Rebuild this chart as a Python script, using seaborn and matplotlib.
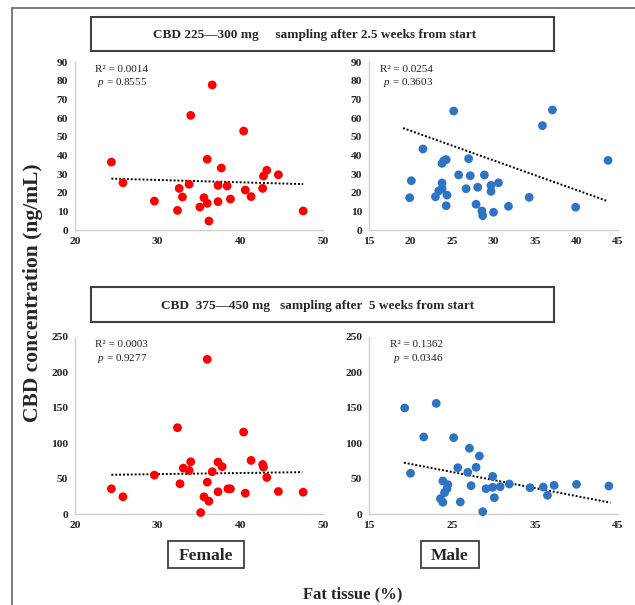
import matplotlib
matplotlib.use("Agg")
import matplotlib.pyplot as plt
import seaborn as sns
import pandas as pd
from matplotlib.patches import Rectangle
from matplotlib.lines import Line2D

# ---- data ----
female_fat = [24.4, 25.8, 29.6, 32.4, 32.6, 33.0, 33.8, 34.0, 35.1, 35.6, 36.0, 36.0, 36.2, 36.6,
              37.3, 37.3, 37.7, 38.4, 38.8, 40.4, 40.6, 41.3, 42.7, 42.8, 43.2, 44.6, 47.6]
female_cbd_w25 = [36.4, 25.3, 15.5, 10.5, 22.3, 17.7, 24.5, 61.4, 12.3, 17.3, 37.9, 14.3, 4.8, 77.7,
                  23.9, 15.2, 33.2, 23.6, 16.6, 53.0, 21.4, 17.9, 22.3, 28.9, 32.0, 29.6, 10.2]
female_fat_w5 = [24.4, 25.8, 29.6, 32.4, 32.7, 33.1, 33.8, 34.0, 35.2, 35.6, 36.0, 36.0, 36.2, 36.6,
                 37.3, 37.3, 37.8, 38.5, 38.8, 40.4, 40.6, 41.3, 42.7, 42.8, 43.2, 44.6, 47.6]
female_cbd_w5 = [35.6, 24.3, 54.9, 121.9, 42.7, 64.8, 61.5, 73.8, 2.0, 24.3, 45.0, 218.5, 18.1, 59.7,
                 73.3, 31.4, 66.8, 35.6, 35.6, 115.7, 29.4, 75.7, 70.0, 66.2, 51.6, 31.8, 30.8]

male_fat_w25 = [19.9, 20.1, 21.5, 23.0, 23.4, 23.8, 23.8, 23.8, 24.0, 24.3, 24.4, 24.3, 25.2, 25.8,
                26.7, 27.0, 27.2, 27.9, 28.1, 28.6, 28.7, 28.9, 29.7, 29.7, 30.0, 30.6, 31.8, 34.3,
                35.9, 37.1, 39.9, 43.8]
male_cbd_w25 = [17.3, 26.4, 43.4, 17.8, 20.9, 22.1, 25.2, 35.7, 37.1, 37.7, 18.7, 13.0, 63.7, 29.5,
                22.1, 38.2, 29.1, 13.8, 22.9, 10.2, 7.7, 29.5, 23.9, 20.7, 9.5, 25.3, 12.7, 17.5,
                55.9, 64.3, 12.2, 37.3]
male_fat_w5 = [19.3, 20.0, 21.6, 23.1, 23.6, 23.9, 23.9, 24.1, 24.4, 24.5, 25.2, 25.7, 26.0, 26.9,
               27.1, 27.3, 27.9, 28.3, 28.7, 29.1, 29.9, 29.9, 30.1, 30.8, 31.9, 34.4, 36.0, 36.5,
               37.3, 40.0, 43.9]
male_cbd_w5 = [149.7, 57.5, 108.8, 156.3, 21.6, 46.6, 16.5, 30.1, 35.7, 41.4, 107.8, 65.4, 17.0, 58.9,
               92.8, 40.0, 66.0, 81.9, 3.3, 35.7, 53.2, 37.7, 23.0, 38.6, 42.4, 37.1, 38.1, 26.4,
               40.5, 41.9, 39.5]

# trend lines (end points as drawn in the picture)
trend_x = {"fw25": [24.4, 47.6], "mw25": [19.1, 43.6], "fw5": [24.4, 47.5], "mw5": [19.2, 44.1]}
trend_y = {"fw25": [27.5, 24.6], "mw25": [54.6, 15.7], "fw5": [55.4, 59.1], "mw5": [72.5, 16.0]}

stats = {"fw25": ("0.0014", "0.8555"), "mw25": ("0.0254", "0.3603"),
         "fw5": ("0.0003", "0.9277"), "mw5": ("0.1362", "0.0346")}

titles = ["CBD 225\u2014300 mg     sampling after 2.5 weeks from start",
          "CBD  375\u2014450 mg   sampling after  5 weeks from start"]

RED = "#FF0000"
BLUE = "#2E74C4"
SERIF = ["Liberation Serif", "DejaVu Serif"]

sns.set_theme(style="white")
plt.rcParams["font.family"] = SERIF
plt.rcParams["mathtext.fontset"] = "custom"
plt.rcParams["mathtext.it"] = "Liberation Serif:italic"
plt.rcParams["mathtext.rm"] = "Liberation Serif"

W, H = 635, 605
fig = plt.figure(figsize=(W / 100, H / 100), dpi=100)


def px_box(x0, y0, x1, y1):
    return [x0 / W, 1 - y1 / H, (x1 - x0) / W, (y1 - y0) / H]


panels = [
    ("fw25", female_fat, female_cbd_w25, RED, px_box(75, 62, 323, 230), (20, 50), [20, 30, 40, 50], (0, 90), range(0, 91, 10), 0.08),
    ("mw25", male_fat_w25, male_cbd_w25, BLUE, px_box(369, 62, 618, 230), (15, 45), range(15, 46, 5), (0, 90), range(0, 91, 10), 0.045),
    ("fw5", female_fat_w5, female_cbd_w5, RED, px_box(75, 337, 323, 514), (20, 50), [20, 30, 40, 50], (0, 250), range(0, 251, 50), 0.08),
    ("mw5", male_fat_w5, male_cbd_w5, BLUE, px_box(369, 337, 618, 514), (15, 45), [15, 25, 35, 45], (0, 250), range(0, 251, 50), 0.085),
]

for key, xs, ys, col, box, xlim, xt, ylim, yt, tx in panels:
    ax = fig.add_axes(box)
    df = pd.DataFrame({"fat": xs, "cbd": ys})
    sns.scatterplot(data=df, x="fat", y="cbd", color=col, s=40, edgecolor="none", ax=ax, clip_on=False, zorder=3)
    tdf = pd.DataFrame({"fat": trend_x[key], "cbd": trend_y[key]})
    sns.lineplot(data=tdf, x="fat", y="cbd", color="black", linestyle=(0, (1, 1)), linewidth=1.4, ax=ax, zorder=2)
    ax.set_xlim(*xlim)
    ax.set_ylim(*ylim)
    ax.set_xticks(list(xt))
    ax.set_yticks(list(yt))
    ax.set_xlabel("")
    ax.set_ylabel("")
    for s in ["top", "right"]:
        ax.spines[s].set_visible(False)
    for s in ["left", "bottom"]:
        ax.spines[s].set_color("#D0D0D0")
        ax.spines[s].set_linewidth(1.0)
    ax.tick_params(length=0, labelsize=8.2, pad=5)
    for lab in ax.get_xticklabels() + ax.get_yticklabels():
        lab.set_fontweight("bold")
        lab.set_color("#222222")
    r2, p = stats[key]
    ax.text(tx, 0.955, f"R\u00b2 = {r2}", transform=ax.transAxes, fontsize=8, va="center", ha="left", color="#222222")
    ax.text(tx + 0.01, 0.88, f"$\\it{{p}}$ = {p}", transform=ax.transAxes, fontsize=8, va="center", ha="left", color="#222222")

# title boxes
for (x0, y0, x1, y1), t, cx in [((91, 17, 554, 51), titles[0], 315), ((91, 287, 554, 322), titles[1], 318)]:
    b = px_box(x0, y0, x1, y1)
    fig.add_artist(Rectangle((b[0], b[1]), b[2], b[3], transform=fig.transFigure,
                             facecolor="white", edgecolor="#404040", linewidth=1.5))
    fig.text(cx / W, 1 - ((y0 + y1) / 2 + 1) / H, t, ha="center", va="center", fontsize=9.5, fontweight="bold")

# sex boxes
for (x0, y0, x1, y1), t in [((168, 541, 244, 568), "Female"), ((421, 541, 479, 568), "Male")]:
    b = px_box(x0, y0, x1, y1)
    fig.add_artist(Rectangle((b[0], b[1]), b[2], b[3], transform=fig.transFigure,
                             facecolor="white", edgecolor="#404040", linewidth=1.3))
    fig.text((x0 + x1) / 2 / W, 1 - ((y0 + y1) / 2 + 2) / H, t, ha="center", va="center", fontsize=12.5, fontweight="bold")

fig.text(353 / W, 1 - 594 / H, "Fat tissue (%)", ha="center", va="center", fontsize=12, fontweight="bold")
fig.text(33 / W, 1 - 293 / H, "CBD concentration (ng/mL)", ha="center", va="center", rotation=90,
         fontsize=15.5, fontweight="bold")

# outer frame (top and left edges)
fig.add_artist(Line2D([12 / W, 1], [1 - 8 / H, 1 - 8 / H], transform=fig.transFigure, color="#666666", linewidth=1.2))
fig.add_artist(Line2D([12 / W, 12 / W], [1 - 8 / H, 0], transform=fig.transFigure, color="#666666", linewidth=1.2))

fig.savefig("out.png", dpi=100, facecolor="white")
